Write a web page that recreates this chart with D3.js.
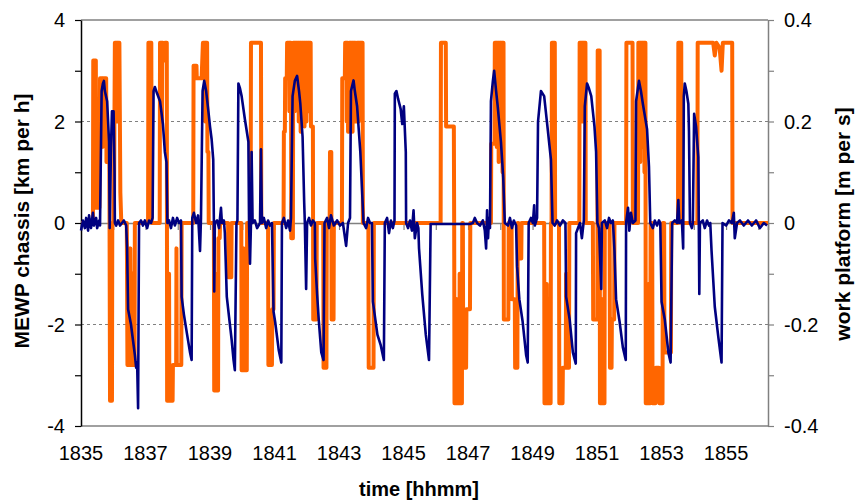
<!DOCTYPE html>
<html>
<head>
<meta charset="utf-8">
<script src="https://cdn.jsdelivr.net/npm/d3@7"></script>
<style>
  body { margin: 0; background: #fff; }
  text { font-family: "Liberation Sans", Arial, sans-serif; fill: #000; }
  .axis-title { font-weight: bold; }
</style>
</head>
<body>
<div id="chart"></div>
<script>
// minutes after 18:35 and chassis speed [km per h]
const chassisSpeed = [
  [0.00,-0.15],[0.06,0.05],[0.12,-0.1],[0.16,0.1],[0.22,-0.15],[0.25,0.15],[0.31,-0.1],[0.37,0.2],[0.40,-0.05],
  [0.47,0.1],[0.50,-0.1],[0.56,0.05],[0.59,-0.05],[0.64,2.6],[0.68,2.75],[0.71,2.8],[0.74,2.6],[0.81,2.4],
  [0.84,2.0],[0.87,1.6],[0.89,-0.1],[0.93,1.5],[0.96,2.2],[1.01,2.2],[1.04,1.0],[1.05,0.0],[1.09,-0.05],
  [1.15,0.05],[1.21,-0.05],[1.27,0.0],[1.33,0.05],[1.40,-0.05],[1.43,-0.5],[1.46,-1.7],[1.55,-2.0],[1.61,-2.3],
  [1.67,-2.6],[1.71,-2.85],[1.74,-2.75],[1.77,-3.65],[1.80,0.0],[1.86,0.05],[1.92,-0.05],[1.98,0.05],[2.05,-0.1],
  [2.11,0.05],[2.17,0.0],[2.22,0.1],[2.25,2.6],[2.29,2.68],[2.36,2.55],[2.45,2.4],[2.54,1.95],[2.60,1.4],
  [2.65,1.2],[2.68,0.0],[2.73,0.05],[2.79,-0.1],[2.85,0.1],[2.91,-0.05],[2.98,0.1],[3.04,0.0],[3.10,0.05],
  [3.12,-1.45],[3.19,-1.8],[3.29,-2.2],[3.38,-2.55],[3.43,-2.7],[3.45,0.1],[3.50,0.2],[3.57,0.0],[3.63,0.15],
  [3.69,-0.55],[3.72,0.1],[3.77,2.6],[3.82,2.8],[3.88,2.6],[3.95,2.2],[4.00,1.9],[4.05,1.65],[4.10,1.25],
  [4.12,0.0],[4.13,-1.35],[4.15,0.0],[4.22,0.05],[4.28,-0.1],[4.34,0.3],[4.37,0.0],[4.43,0.05],[4.46,-0.2],
  [4.52,-1.45],[4.59,-1.85],[4.67,-2.3],[4.73,-2.7],[4.77,-2.9],[4.82,0.0],[4.85,0.05],[4.88,2.75],[4.93,2.65],
  [4.98,2.5],[5.08,2.05],[5.19,1.6],[5.21,0.0],[5.24,-0.8],[5.27,0.0],[5.29,1.4],[5.32,0.0],[5.39,0.05],
  [5.46,-0.1],[5.55,0.0],[5.58,1.45],[5.61,0.0],[5.67,0.1],[5.74,-0.1],[5.80,0.05],[5.86,-0.05],[5.92,0.0],
  [5.97,-1.75],[6.02,-1.95],[6.13,-2.5],[6.21,-2.75],[6.23,0.0],[6.29,0.1],[6.36,-0.1],[6.42,0.05],[6.48,-0.15],
  [6.51,0.1],[6.56,2.5],[6.63,2.8],[6.70,2.9],[6.76,2.6],[6.80,2.35],[6.87,1.7],[6.92,0.4],[6.94,0.0],
  [6.98,-1.3],[7.01,0.0],[7.07,0.1],[7.13,-0.05],[7.19,0.05],[7.25,0.0],[7.26,-0.7],[7.32,-1.4],[7.37,-1.9],
  [7.45,-2.55],[7.52,-2.7],[7.55,0.0],[7.63,0.1],[7.69,-0.1],[7.75,0.15],[7.84,-0.05],[7.94,0.05],[8.03,-0.05],
  [8.12,0.0],[8.22,-0.45],[8.28,0.0],[8.34,0.1],[8.37,2.6],[8.45,2.81],[8.49,2.6],[8.56,2.3],[8.66,1.4],
  [8.71,0.7],[8.76,0.0],[8.84,-0.1],[8.90,0.1],[8.96,0.0],[9.02,0.0],[9.05,-1.55],[9.19,-2.2],[9.29,-2.4],
  [9.39,-2.7],[9.42,0.0],[9.49,0.1],[9.55,-0.2],[9.61,0.05],[9.67,-0.1],[9.72,0.05],[9.73,2.55],[9.78,2.6],
  [9.83,2.45],[9.91,2.25],[9.96,1.95],[10.01,2.3],[10.07,1.4],[10.08,0.0],[10.14,-0.1],[10.20,0.05],[10.26,-0.15],
  [10.31,0.25],[10.35,-0.3],[10.42,0.0],[10.46,-0.1],[10.48,-0.5],[10.58,-1.4],[10.69,-2.2],[10.79,-2.7],
  [10.84,-0.02],[12.06,-0.02],[12.15,0.0],[12.21,0.1],[12.28,0.0],[12.37,-0.05],[12.46,0.05],[12.52,-0.15],
  [12.56,-0.5],[12.59,0.25],[12.62,-0.3],[12.65,0.1],[12.68,-0.1],[12.71,2.4],[12.77,2.8],[12.81,3.0],[12.87,2.6],
  [12.92,2.3],[13.02,1.6],[13.09,0.9],[13.14,0.0],[13.24,-0.05],[13.30,0.1],[13.36,-0.1],[13.42,0.05],[13.49,-0.05],
  [13.52,-0.85],[13.59,-1.5],[13.69,-1.93],[13.80,-2.6],[13.85,-2.75],[13.88,0.0],[13.95,0.1],[14.01,0.0],
  [14.05,0.35],[14.07,-0.05],[14.14,0.1],[14.17,2.0],[14.26,2.6],[14.36,2.5],[14.47,1.85],[14.57,1.25],[14.62,0.0],
  [14.69,-0.05],[14.76,0.05],[14.85,-0.05],[14.94,0.05],[15.02,0.0],[15.04,-1.45],[15.15,-1.9],[15.25,-2.55],
  [15.34,-2.77],[15.35,-0.2],[15.41,-0.1],[15.47,0.0],[15.53,-0.3],[15.59,0.05],[15.62,2.3],[15.69,2.75],
  [15.75,2.65],[15.82,2.5],[15.92,1.9],[15.97,1.4],[16.01,0.0],[16.06,-0.1],[16.13,-1.3],[16.15,0.0],[16.24,0.05],
  [16.31,-0.1],[16.37,0.1],[16.43,0.0],[16.49,0.05],[16.54,-0.55],[16.59,-1.5],[16.70,-1.95],[16.80,-2.45],
  [16.89,-2.7],[16.90,0.0],[16.96,0.3],[17.00,-0.15],[17.05,0.2],[17.11,0.0],[17.19,0.05],[17.21,2.4],[17.30,2.8],
  [17.36,2.6],[17.42,2.35],[17.55,1.85],[17.61,1.1],[17.65,0.0],[17.73,-0.1],[17.79,0.05],[17.86,-0.05],
  [17.92,0.05],[17.96,0.0],[18.00,-1.55],[18.10,-1.9],[18.21,-2.55],[18.28,-2.75],[18.33,0.0],[18.41,0.05],
  [18.48,0.0],[18.52,0.45],[18.55,0.0],[18.63,0.05],[18.67,-0.5],[18.69,2.5],[18.72,2.75],[18.77,2.6],[18.83,2.35],
  [18.85,1.8],[18.88,0.0],[18.94,-0.1],[18.97,0.0],[19.01,2.15],[19.07,1.9],[19.11,1.55],[19.14,1.3],[19.17,-1.4],
  [19.19,0.0],[19.28,0.05],[19.34,-0.1],[19.41,0.05],[19.47,-0.05],[19.51,0.0],[19.55,-0.55],[19.65,-1.65],
  [19.76,-2.25],[19.86,-2.75],[19.89,0.0],[20.00,-0.05],[20.09,0.05],[20.18,0.0],[20.24,0.2],[20.27,-0.3],
  [20.34,0.0],[20.43,0.05],[20.55,-0.05],[20.68,0.05],[20.80,-0.05],[20.93,0.05],[21.05,-0.1],[21.17,0.0],[21.27,-0.05]
];

// minutes after 18:35 and work platform speed [m per s]
const platformSpeed = [
  [0.00,0],[0.37,0],[0.38,0.32],[0.46,0.32],[0.47,0.03],[0.57,0.03],[0.59,0.285],[0.66,0.285],[0.67,0.15],
  [0.68,0.285],[0.78,0.285],[0.79,0.12],[0.88,0.12],[0.90,-0.35],[0.96,-0.35],[0.97,0],[1.02,0],[1.05,0.355],
  [1.12,0.355],[1.13,0.2],[1.14,0.355],[1.19,0.355],[1.22,0.06],[1.25,0],
  [1.42,0],[1.44,-0.28],[1.48,-0.28],[1.49,-0.08],[1.50,-0.28],[1.52,-0.28],[1.53,-0.05],[1.55,-0.28],
  [1.59,-0.28],[1.60,-0.1],[1.61,-0.28],[1.66,-0.28],[1.67,0],
  [2.08,0],[2.09,0.355],[2.18,0.355],[2.19,0],
  [2.44,0],[2.45,0.355],[2.50,0.355],[2.51,0.2],[2.52,0.355],[2.54,0.355],[2.55,0.32],[2.59,0.32],[2.60,0.355],
  [2.66,0.355],[2.67,-0.35],[2.72,-0.35],[2.73,-0.1],[2.74,-0.35],[2.84,-0.35],[2.85,-0.28],[2.95,-0.28],
  [2.96,-0.05],[2.97,-0.28],[3.11,-0.28],[3.12,0],
  [3.48,0],[3.49,0.31],[3.58,0.31],[3.59,0.285],[3.74,0.285],[3.78,0.355],[3.84,0.355],[3.85,0.2],[3.86,0.355],
  [3.91,0.355],[3.92,0.14],[3.95,0.14],[3.96,0],
  [4.12,0],[4.13,-0.33],[4.19,-0.33],[4.20,-0.1],[4.21,-0.33],[4.25,-0.33],[4.26,-0.03],[4.30,-0.03],[4.31,0],
  [4.56,0],[4.57,-0.107],[4.66,-0.107],[4.67,0],
  [4.97,0],[4.98,-0.29],[5.04,-0.29],[5.05,-0.05],[5.06,-0.29],[5.14,-0.29],[5.15,0],
  [5.26,0],[5.27,0.355],[5.58,0.355],[5.59,0],
  [5.80,0],[5.81,-0.28],[5.92,-0.28],[5.93,-0.17],[5.97,-0.17],[5.98,0],
  [6.28,0],[6.29,0.18],[6.32,0.18],[6.33,0.285],[6.38,0.285],[6.39,0.355],[6.45,0.355],[6.46,0.22],[6.47,0.355],
  [6.51,0.355],[6.52,-0.03],[6.57,-0.03],[6.58,0.355],[6.62,0.355],[6.63,0.22],[6.64,0.355],[6.68,0.355],
  [6.69,0.25],[6.70,0.355],[6.74,0.355],[6.75,0.2],[6.76,0.355],[6.80,0.355],[6.81,0.18],[6.82,0.355],
  [6.86,0.355],[6.87,0.2],[6.88,0.355],[6.92,0.355],[6.93,0.19],[6.94,0.355],[6.98,0.355],[6.99,0.2],
  [7.00,0.355],[7.04,0.355],[7.05,0.22],[7.06,0.355],[7.12,0.355],[7.13,0.19],[7.19,0.19],[7.20,-0.19],
  [7.30,-0.19],[7.31,0],
  [7.51,0],[7.52,-0.285],[7.61,-0.285],[7.62,0],
  [7.71,0],[7.72,0.14],[7.76,0.14],[7.77,-0.19],[7.83,-0.19],[7.84,0],
  [8.09,0],[8.10,0.285],[8.18,0.285],[8.19,0.355],[8.23,0.355],[8.24,0.2],[8.25,0.355],[8.27,0.355],[8.28,0.18],
  [8.30,0.18],[8.31,0.355],[8.35,0.355],[8.36,0.2],[8.37,0.355],[8.41,0.355],[8.42,0.18],[8.43,0.355],
  [8.47,0.355],[8.48,0.22],[8.49,0.355],[8.51,0.355],[8.52,0.2],[8.54,0.2],[8.55,0.355],[8.60,0.355],
  [8.61,0.2],[8.62,0.355],[8.67,0.355],[8.68,0.25],[8.69,0.355],[8.73,0.355],[8.74,0],
  [8.91,0],[8.92,-0.285],[9.07,-0.285],[9.08,0],
  [11.15,0],[11.16,0.355],[11.31,0.355],[11.32,0.19],[11.56,0.19],[11.57,0],[11.58,-0.355],[11.65,-0.355],
  [11.66,-0.15],[11.67,-0.355],[11.73,-0.355],[11.74,-0.1],[11.76,-0.1],[11.77,-0.355],[11.81,-0.355],[11.82,0],
  [11.84,0],[11.85,-0.285],[11.94,-0.285],[11.95,-0.17],[12.06,-0.17],[12.07,0],
  [12.71,0],[12.72,0.156],[12.82,0.156],[12.83,0.355],[12.88,0.355],[12.89,0.15],[12.90,0.355],[12.94,0.355],
  [12.95,0.12],[12.96,0.355],[13.00,0.355],[13.01,0.15],[13.02,0.355],[13.06,0.355],[13.07,0.1],[13.08,0.355],
  [13.10,0.355],[13.11,-0.19],[13.25,-0.19],[13.26,0],
  [13.35,0],[13.36,-0.15],[13.45,-0.15],[13.46,-0.285],[13.53,-0.285],[13.54,0],[13.56,0],[13.57,-0.07],
  [13.65,-0.07],[13.66,0],
  [14.36,0],[14.37,-0.355],[14.43,-0.355],[14.44,-0.12],[14.45,-0.355],[14.50,-0.355],[14.51,-0.15],[14.52,-0.355],
  [14.56,-0.355],[14.57,0],[14.59,0],[14.60,0.355],[14.69,0.355],[14.70,0],
  [14.82,0],[14.83,-0.355],[14.93,-0.355],[14.94,-0.285],[15.03,-0.285],[15.04,-0.1],[15.05,-0.285],
  [15.13,-0.285],[15.14,0],
  [15.45,0],[15.46,0.355],[15.55,0.355],[15.56,0.2],[15.57,0.355],[15.64,0.355],[15.65,0],
  [15.87,0],[15.88,-0.19],[16.01,-0.19],[16.02,0.34],[16.08,0.34],[16.09,-0.355],[16.15,-0.355],[16.16,-0.15],
  [16.17,-0.355],[16.23,-0.355],[16.24,0],
  [16.39,0],[16.40,-0.285],[16.45,-0.285],[16.46,-0.19],[16.53,-0.19],[16.54,0],
  [16.90,0],[16.91,0.355],[17.10,0.355],[17.11,0],
  [17.27,0],[17.28,0.355],[17.33,0.355],[17.34,0.12],[17.35,0.355],[17.40,0.355],[17.41,0.15],[17.42,0.355],
  [17.46,0.355],[17.47,0.1],[17.48,0.355],[17.50,0.355],[17.51,-0.355],[17.58,-0.355],[17.59,-0.12],
  [17.60,-0.355],[17.65,-0.355],[17.66,0],[17.71,0],[17.72,-0.355],[17.81,-0.355],[17.82,-0.285],[17.92,-0.285],
  [17.93,-0.355],[18.03,-0.355],[18.04,0],[18.08,0],[18.09,-0.255],[18.29,-0.255],[18.30,0],
  [18.51,0],[18.52,0.355],[18.61,0.355],[18.62,0],
  [19.11,0],[19.12,0.355],[19.60,0.355],[19.65,0.33],[19.70,0.355],[19.80,0.345],[19.86,0.3],[19.90,0.355],
  [20.19,0.355],[20.20,0],[21.30,0]
];

const xTicks = [0, 2, 4, 6, 8, 10, 12, 14, 16, 18, 20];
const xTickLabels = ["1835", "1837", "1839", "1841", "1843", "1845", "1847", "1849", "1851", "1853", "1855"];
const leftTicks = [-4, -2, 0, 2, 4];
const rightTicks = [-0.4, -0.2, 0, 0.2, 0.4];
const gridValues = [-2, 2];

const width = 856, height = 504;
const plot = {left: 81, right: 768, top: 20, bottom: 426};

const svg = d3.select("#chart").append("svg")
    .attr("width", width)
    .attr("height", height);

// Skalen
const x = d3.scaleLinear().domain([0, 21.3]).range([plot.left, plot.right]);
const yLeft = d3.scaleLinear().domain([-4, 4]).range([plot.bottom, plot.top]);
const yRight = d3.scaleLinear().domain([-0.4, 0.4]).range([plot.bottom, plot.top]);

// Rahmen oben/unten
svg.append("line")
    .attr("x1", plot.left).attr("x2", plot.right)
    .attr("y1", plot.top).attr("y2", plot.top)
    .attr("stroke", "#808080").attr("stroke-width", 1.5);
svg.append("line")
    .attr("x1", plot.left).attr("x2", plot.right)
    .attr("y1", plot.bottom).attr("y2", plot.bottom)
    .attr("stroke", "#808080").attr("stroke-width", 1.5);

// Rasterlinien
svg.selectAll(".grid")
    .data(gridValues)
    .enter()
    .append("line")
    .attr("class", "grid")
    .attr("x1", plot.left).attr("x2", plot.right)
    .attr("y1", d => yLeft(d)).attr("y2", d => yLeft(d))
    .attr("stroke", "#808080")
    .attr("stroke-width", 1.2)
    .attr("stroke-dasharray", "3,3");

// x-Achse bei 0
const xAxis = d3.axisBottom(x)
    .tickValues(d3.range(0, 22))
    .tickSize(7)
    .tickFormat("");
const gx = svg.append("g")
    .attr("transform", `translate(0,${yLeft(0)})`)
    .call(xAxis);
gx.select(".domain").attr("stroke", "#808080").attr("stroke-width", 1.5);
gx.selectAll(".tick line").attr("stroke", "#808080").attr("stroke-width", 1.2);

// linke Achse
const gl = svg.append("g")
    .attr("transform", `translate(${plot.left},0)`)
    .call(d3.axisLeft(yLeft).tickValues(d3.range(-4, 5)).tickSize(6).tickSizeOuter(0).tickFormat(""));
gl.select(".domain").attr("stroke", "#000").attr("stroke-width", 1.5);
gl.selectAll(".tick line").attr("stroke", "#000").attr("stroke-width", 1.2);

// rechte Achse
const gr = svg.append("g")
    .attr("transform", `translate(${plot.right},0)`)
    .call(d3.axisRight(yRight).tickValues(d3.range(-4, 5).map(d => d / 10)).tickSize(6).tickSizeOuter(0).tickFormat(""));
gr.select(".domain").attr("stroke", "#808080").attr("stroke-width", 1.5);
gr.selectAll(".tick line").attr("stroke", "#808080").attr("stroke-width", 1.2);

// Linien
const line = d3.line().x(d => x(d[0]));

svg.append("path")
    .datum(platformSpeed)
    .attr("fill", "none")
    .attr("stroke", "#FF6600")
    .attr("stroke-width", 4)
    .attr("stroke-linejoin", "round")
    .attr("d", line.y(d => yRight(d[1])));

svg.append("path")
    .datum(chassisSpeed)
    .attr("fill", "none")
    .attr("stroke", "#000080")
    .attr("stroke-width", 2.6)
    .attr("stroke-linejoin", "round")
    .attr("d", line.y(d => yLeft(d[1])));

// Beschriftungen
svg.selectAll(".xlabel")
    .data(xTicks)
    .enter()
    .append("text")
    .attr("class", "xlabel")
    .attr("x", d => x(d))
    .attr("y", 460)
    .attr("text-anchor", "middle")
    .style("font-size", "20px")
    .text((d, i) => xTickLabels[i]);

svg.selectAll(".ylabel-left")
    .data(leftTicks)
    .enter()
    .append("text")
    .attr("x", 65)
    .attr("y", d => yLeft(d))
    .attr("dy", "0.35em")
    .attr("text-anchor", "end")
    .style("font-size", "20px")
    .text(d => d);

svg.selectAll(".ylabel-right")
    .data(rightTicks)
    .enter()
    .append("text")
    .attr("x", 784)
    .attr("y", d => yRight(d))
    .attr("dy", "0.35em")
    .attr("text-anchor", "start")
    .style("font-size", "20px")
    .text(d => d);

svg.append("text")
    .attr("class", "axis-title")
    .attr("x", 419)
    .attr("y", 496)
    .attr("text-anchor", "middle")
    .style("font-size", "20px")
    .text("time [hhmm]");

svg.append("text")
    .attr("class", "axis-title")
    .attr("transform", "translate(29,221) rotate(-90)")
    .attr("text-anchor", "middle")
    .style("font-size", "21px")
    .text("MEWP chassis [km per h]");

svg.append("text")
    .attr("class", "axis-title")
    .attr("transform", "translate(850,224) rotate(-90)")
    .attr("text-anchor", "middle")
    .style("font-size", "21px")
    .text("work platform [m per s]");
</script>
</body>
</html>
